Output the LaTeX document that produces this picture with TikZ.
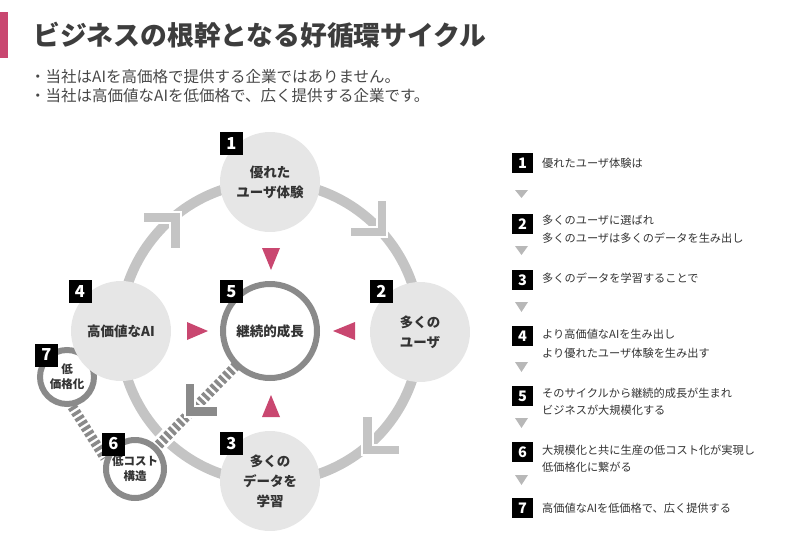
\documentclass[tikz,border=0pt]{standalone}
\usepackage{fontspec}
\setmainfont{Noto Sans CJK JP}
\definecolor{accentpink}{HTML}{C94770}
\definecolor{ringgray}{HTML}{C4C4C4}
\definecolor{circfill}{HTML}{E6E6E6}
\definecolor{outl}{HTML}{8A8A8A}
\definecolor{trigray}{HTML}{B8B8B8}
\definecolor{txt}{HTML}{333333}
\begin{document}
\begin{tikzpicture}[x=1pt,y=-1pt,
  bigc/.style={circle, fill=circfill, minimum size=100pt, inner sep=0pt, align=center,
    font=\bfseries\fontsize{13.5}{20}\selectfont, text=txt},
  ringc/.style={circle, draw=outl, line width=6pt, fill=white, inner sep=0pt, align=center, text=txt},
  badge/.style={fill=black, text=white, minimum size=23pt, inner sep=0pt,
    font=\bfseries\fontsize{16.5}{16.5}\selectfont},
  sbadge/.style={badge, minimum width=21pt, minimum height=20pt, font=\bfseries\fontsize{14.5}{14.5}\selectfont},
  chev/.style={fill=ringgray, draw=white, line width=2.5pt},
  dchev/.style={chev, fill=outl},
  ladder/.style={draw=outl, line width=10pt, dash pattern=on 3.5pt off 2.5pt},
  ptri/.style={fill=accentpink},
  gtri/.style={fill=trigray},
  item/.style={anchor=west, inner sep=0pt, font=\fontsize{11.2}{14}\selectfont, text=txt},
  sub/.style={anchor=west, inner sep=0pt, font=\fontsize{15.5}{18}\selectfont, text=txt!90}
]
\path[use as bounding box] (0,0) rectangle (800,554);

% title
\fill[accentpink] (0,12) rectangle (8,58);
\node[anchor=west, inner sep=0pt, font=\bfseries\fontsize{26.8}{30}\selectfont, text=txt!95] (title) at (33,35) {ビジネスの根幹となる好循環サイクル};
\node[sub] (sub1) at (30,77) {・当社はAIを高価格で提供する企業ではありません。};
\node[sub] (sub2) at (30,96) {・当社は高価値なAIを低価格で、広く提供する企業です。};

% ring
\coordinate (ctr) at (270,332);
\draw[ringgray, line width=10pt] (ctr) circle[radius=150];

% chevrons on ring
\path[chev] (181,212) -- (143,212) -- (143,223) -- (170,223) -- (170,249) -- (181,249) -- cycle;
\path[chev] (387,237) -- (387,200) -- (377,200) -- (377,227) -- (350,227) -- (350,237) -- cycle;
\path[chev] (362,455) -- (362,416) -- (373,416) -- (373,445) -- (400,445) -- (400,455) -- cycle;

% main circles
\node[bigc] (c1) at (270,182) {優れた\\ユーザ体験};
\node[bigc] (c2) at (420,332) {多くの\\ユーザ};
\node[bigc] (c3) at (270,481) {多くの\\データを\\学習};

% dashed link 5 -> 6
\coordinate (p5) at (270,331);
\coordinate (p6) at (135,469);
\draw[white, line width=16pt] (p5) -- (p6);
\draw[ladder] (p5) -- (p6);
\path[dchev] (185,417) -- (185,383) -- (195,383) -- (195,406) -- (218,406) -- (218,417) -- cycle;

% small circles and centre
\node[ringc, minimum size=54pt, font=\bfseries\fontsize{11.5}{15}\selectfont] (c7) at (67,377) {低\\価格化};
\node[bigc] (c4) at (121,331) {高価値なAI};
\node[ringc, minimum size=94pt, font=\bfseries\fontsize{13.5}{20}\selectfont] (c5) at (p5) {継続的成長};
\node[ringc, minimum size=58pt, font=\bfseries\fontsize{11.5}{15}\selectfont] (c6) at (p6) {低コスト\\構造};
\draw[ladder] (c7.-80) -- (c6.160);

% badges
\node[badge] (b1) at (231.5,143.5) {1};
\node[badge] (b2) at (381.5,291.5) {2};
\node[badge] (b3) at (231.5,443.5) {3};
\node[badge] (b4) at (80,291.5) {4};
\node[badge] (b5) at (231.5,291.5) {5};
\node[badge] (b6) at (113.5,444) {6};
\node[badge] (b7) at (46.5,355) {7};

% pink triangles
\fill[ptri] (262,248) -- (280,248) -- (271,270) -- cycle;
\fill[ptri] (262,417) -- (280,417) -- (271,395) -- cycle;
\fill[ptri] (187,322) -- (187,340) -- (208,331) -- cycle;
\fill[ptri] (355,322) -- (355,340) -- (333,331) -- cycle;

% right list
\node[sbadge] (r1) at (522.5,163) {1};
\node[sbadge] (r2) at (522.5,224) {2};
\node[sbadge] (r3) at (522.5,280) {3};
\node[sbadge] (r4) at (522.5,336) {4};
\node[sbadge] (r5) at (522.5,396) {5};
\node[sbadge] (r6) at (522.5,452) {6};
\node[sbadge] (r7) at (522.5,508) {7};

\node[item] (t1) at (542,163) {優れたユーザ体験は};
\node[item] (t2a) at (542,220) {多くのユーザに選ばれ};
\node[item] (t2b) at (542,238) {多くのユーザは多くのデータを生み出し};
\node[item] (t3) at (542,278) {多くのデータを学習することで};
\node[item] (t4a) at (542,334) {より高価値なAIを生み出し};
\node[item] (t4b) at (542,353) {より優れたユーザ体験を生み出す};
\node[item] (t5a) at (542,393) {そのサイクルから継続的成長が生まれ};
\node[item] (t5b) at (542,410) {ビジネスが大規模化する};
\node[item] (t6a) at (542,450) {大規模化と共に生産の低コスト化が実現し};
\node[item] (t6b) at (542,467) {低価格化に繋がる};
\node[item] (t7) at (542,508) {高価値なAIを低価格で、広く提供する};

\fill[gtri] (515,190) -- (528,190) -- (521.5,198) -- cycle;
\fill[gtri] (515,246) -- (528,246) -- (521.5,255) -- cycle;
\fill[gtri] (515,302) -- (528,302) -- (521.5,312) -- cycle;
\fill[gtri] (515,362) -- (528,362) -- (521.5,372) -- cycle;
\fill[gtri] (515,418) -- (528,418) -- (521.5,428) -- cycle;
\fill[gtri] (515,475) -- (528,475) -- (521.5,485) -- cycle;
\end{tikzpicture}
\end{document}
